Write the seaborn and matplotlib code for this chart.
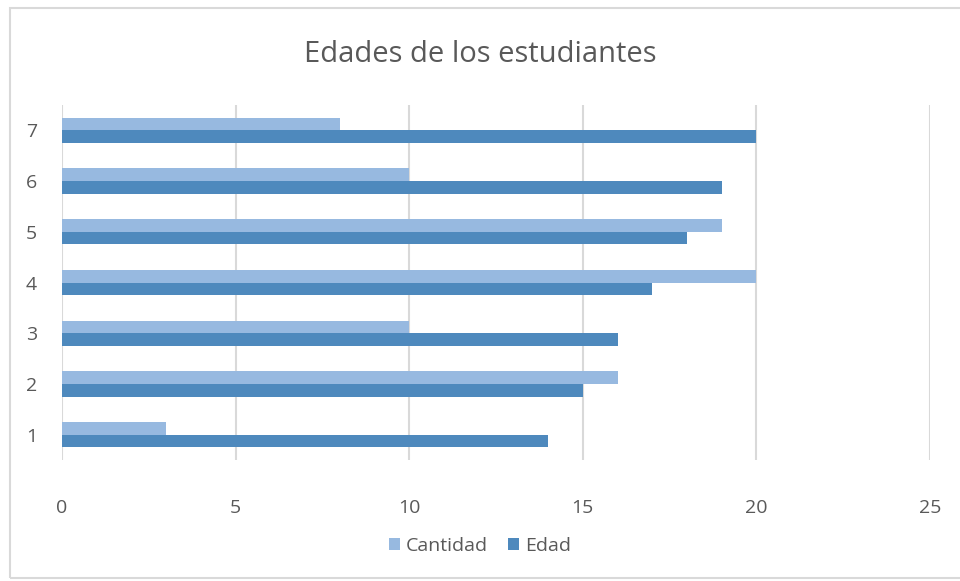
import pandas as pd
import matplotlib
matplotlib.use("Agg")
import matplotlib.pyplot as plt
import seaborn as sns
from matplotlib.patches import Rectangle

# Data
categorias = [1, 2, 3, 4, 5, 6, 7]
cantidad = [3, 16, 10, 20, 19, 10, 8]
edad = [14, 15, 16, 17, 18, 19, 20]
series = ["Cantidad", "Edad"]
colores = ["#97B9E0", "#4E89BD"]

df = pd.DataFrame({
    "Categoria": categorias * 2,
    "Valor": cantidad + edad,
    "Serie": ["Cantidad"] * len(categorias) + ["Edad"] * len(categorias),
})

sns.set_style("white")
plt.rcParams["font.family"] = ["Open Sans", "DejaVu Sans"]
gris = "#595959"

fig = plt.figure(figsize=(9.6, 5.81), dpi=100)
ax = fig.add_axes([62 / 960, 1 - 460 / 581, (930 - 62) / 960, (460 - 105) / 581])

sns.barplot(data=df, x="Valor", y="Categoria", hue="Serie", orient="h",
            order=categorias[::-1], hue_order=series, palette=colores,
            width=0.5, gap=0, saturation=1, linewidth=0, ax=ax, legend=True)

ax.set_xlim(0, 25)
ax.set_ylim(6.5, -0.5)
ax.set_xticks([0, 5, 10, 15, 20, 25])
ax.grid(axis="x", color="#d9d9d9", linewidth=1.5)
ax.set_axisbelow(True)
for s in ax.spines.values():
    s.set_visible(False)
ax.tick_params(axis="both", length=0, labelsize=14, labelcolor=gris)
ax.tick_params(axis="x", pad=28)
ax.tick_params(axis="y", pad=18)
ax.set_xlabel("")
ax.set_ylabel("")

handles, labels = ax.get_legend_handles_labels()
ax.get_legend().remove()
leg = fig.legend(handles, labels, loc="center", bbox_to_anchor=(0.5, 1 - 546 / 581),
                 ncol=2, frameon=False, fontsize=14, handlelength=0.6,
                 handleheight=0.6, handletextpad=0.3, columnspacing=1.0)
for t in leg.get_texts():
    t.set_color(gris)

fig.text(0.5, 1 - 54 / 581, "Edades de los estudiantes", ha="center", va="center",
         fontsize=21, color=gris)

fig.patches.append(Rectangle((10 / 960, 3 / 581), 1.0, 1 - 11 / 581,
                             transform=fig.transFigure, fill=False,
                             edgecolor="#d9d9d9", linewidth=1.5))

fig.savefig("out.png", dpi=100)
